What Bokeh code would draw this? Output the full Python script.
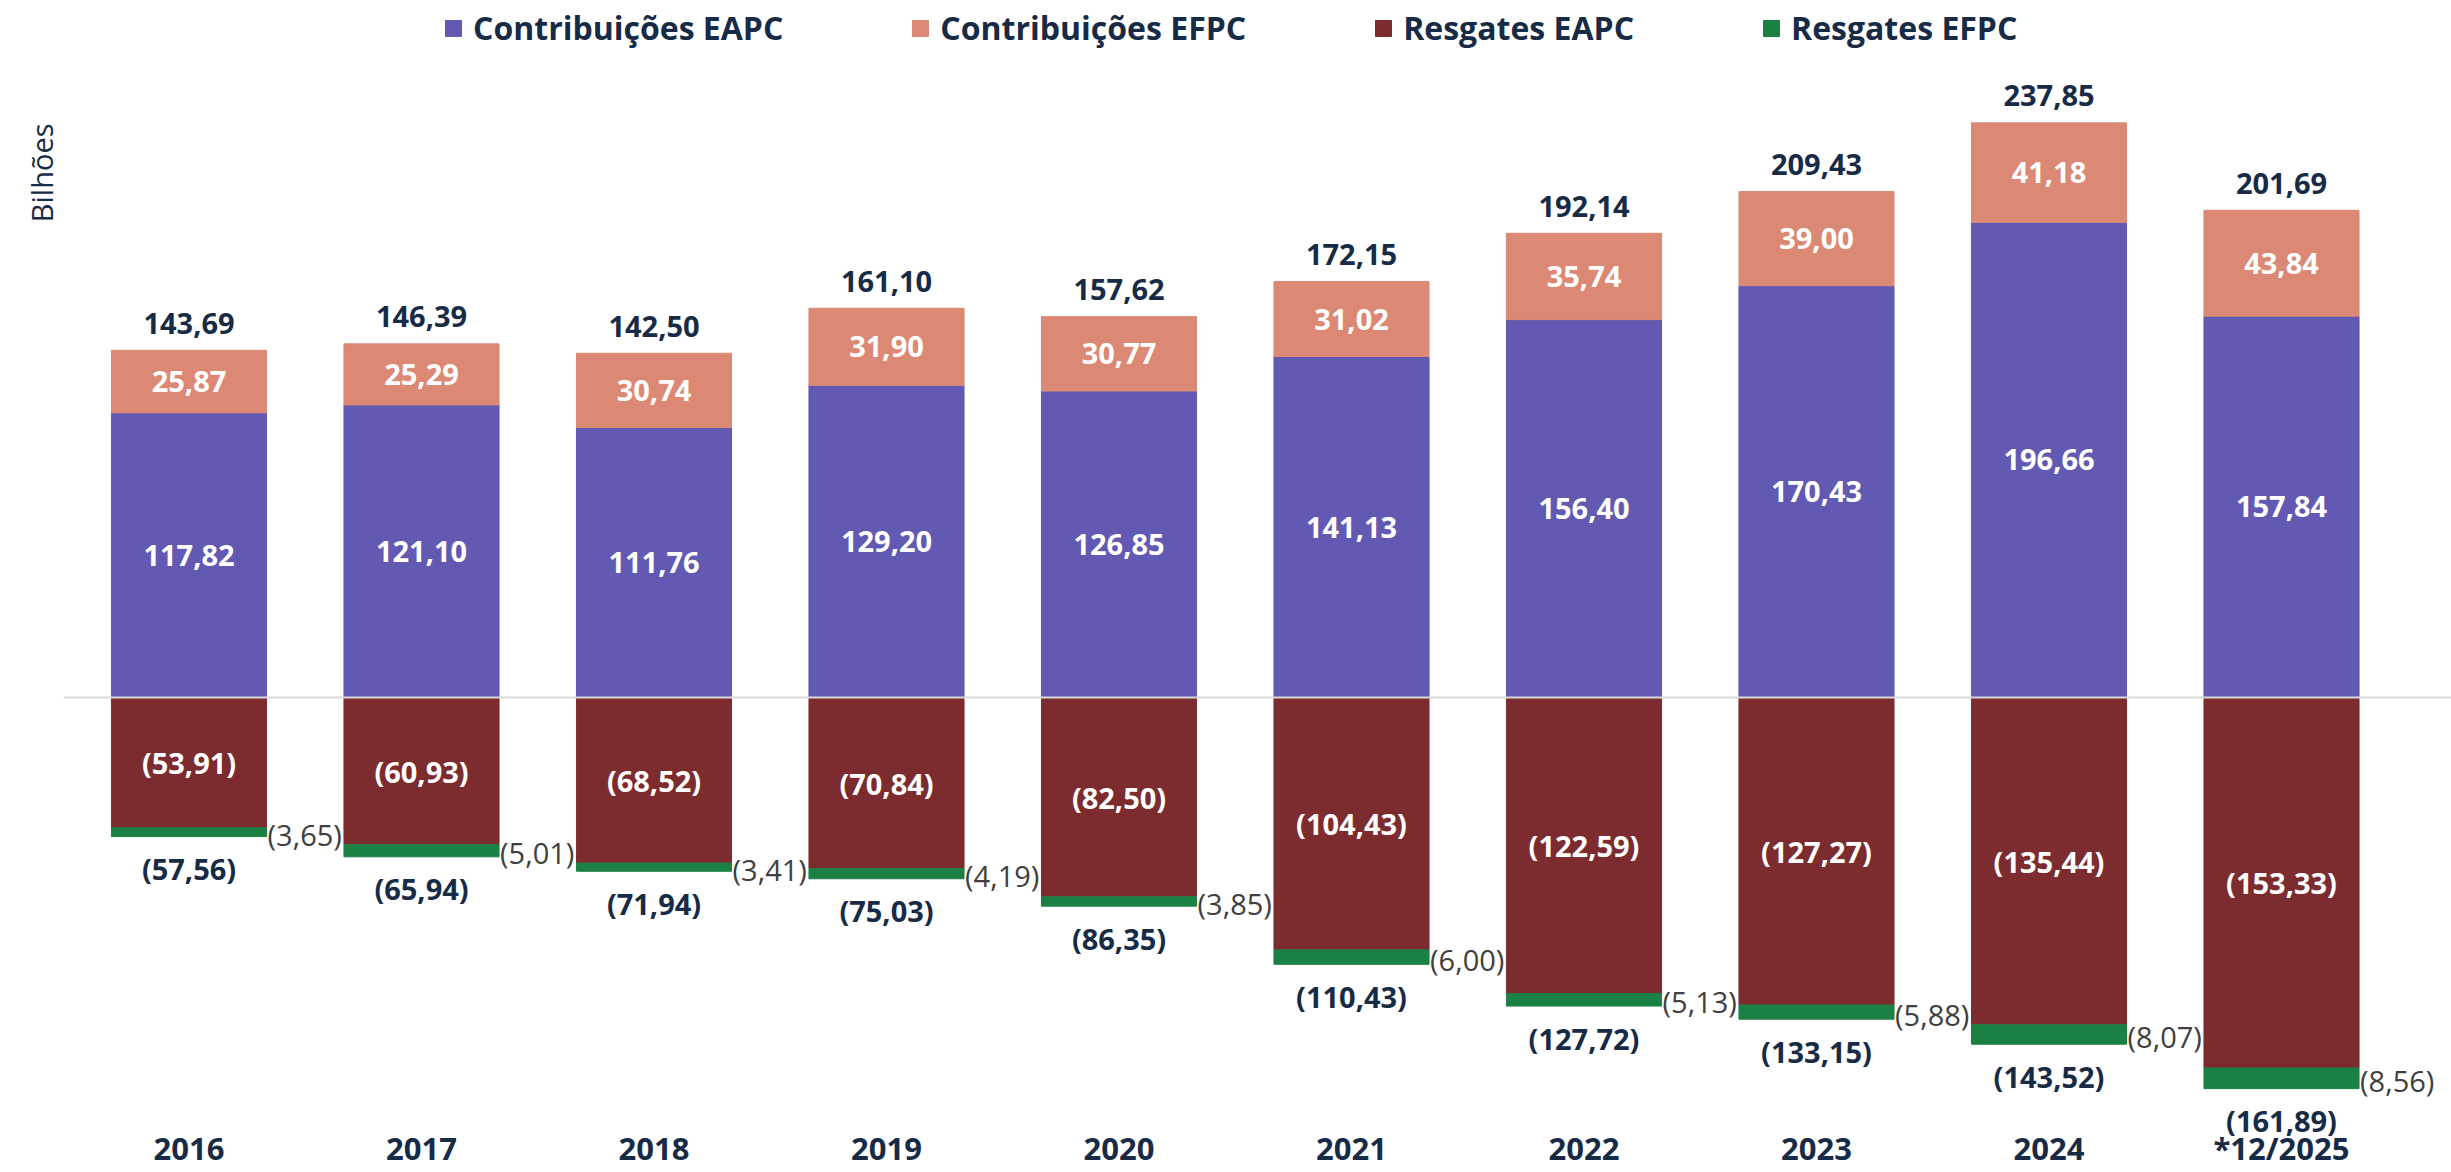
from bokeh.plotting import figure
from bokeh.models import (ColumnDataSource, Range1d, LinearAxis, FixedTicker,
                          Legend, LegendItem, Span, Title)
from bokeh.core.properties import value
from bokeh.embed import file_html
from bokeh.resources import INLINE

# ---------------- data ----------------
years = ["2016", "2017", "2018", "2019", "2020", "2021", "2022", "2023", "2024", "*12/2025"]
contrib_eapc = [117.82, 121.10, 111.76, 129.20, 126.85, 141.13, 156.40, 170.43, 196.66, 157.84]
contrib_efpc = [25.87, 25.29, 30.74, 31.90, 30.77, 31.02, 35.74, 39.00, 41.18, 43.84]
contrib_total = [143.69, 146.39, 142.50, 161.10, 157.62, 172.15, 192.14, 209.43, 237.85, 201.69]
resg_eapc = [53.91, 60.93, 68.52, 70.84, 82.50, 104.43, 122.59, 127.27, 135.44, 153.33]
resg_efpc = [3.65, 5.01, 3.41, 4.19, 3.85, 6.00, 5.13, 5.88, 8.07, 8.56]
resg_total = [57.56, 65.94, 71.94, 75.03, 86.35, 110.43, 127.72, 133.15, 143.52, 161.89]
series_names = ["Contribuições EAPC", "Contribuições EFPC", "Resgates EAPC", "Resgates EFPC"]
y_label = "Bilhões"

# ---------------- style ----------------
PURPLE = "#6259B2"
ORANGE = "#DB8974"
MAROON = "#7C2C2E"
GREEN = "#1B8044"
NAVY = "#172B46"
GRAY = "#404040"
FONT = "Open Sans"
BAR_W = 0.667

def fmt(v):
    return f"{v:.2f}".replace(".", ",")

def fmt_neg(v):
    return "(" + fmt(v) + ")"

n = len(years)
xs = list(range(n))

src = ColumnDataSource(dict(
    x=xs,
    ce=contrib_eapc,
    cf=contrib_efpc,
    re=[-v for v in resg_eapc],
    rf=[-v for v in resg_efpc],
))

p = figure(width=2451, height=1172,
           x_range=Range1d(-0.5398, 9.7312), y_range=Range1d(-185.84, 288.49),
           output_backend="svg", toolbar_location=None,
           x_axis_location=None, y_axis_location=None,
           min_border_left=63, min_border_right=0, min_border_top=0, min_border_bottom=26,
           outline_line_color=None, background_fill_color="white",
           border_fill_color="white")
p.grid.visible = False

pos = p.vbar_stack(["ce", "cf"], x="x", width=BAR_W, color=[PURPLE, ORANGE], source=src)
neg = p.vbar_stack(["re", "rf"], x="x", width=BAR_W, color=[MAROON, GREEN], source=src)

p.add_layout(Span(location=0, dimension="width", line_color="#D9D9D9", line_width=2))

# ---------------- labels ----------------
def add_text(xv, yv, texts, color, style="bold", align="center", baseline="middle",
             x_off=0, y_off=0, size="29px"):
    s = ColumnDataSource(dict(x=xv, y=yv, t=texts))
    p.text(x="x", y="y", text="t", source=s, text_font=value(FONT),
           text_font_style=style, text_font_size=value(size), text_color=color,
           text_align=align, text_baseline=baseline, x_offset=x_off, y_offset=y_off)

add_text(xs, [v / 2 for v in contrib_eapc], [fmt(v) for v in contrib_eapc], "white")
add_text(xs, [a + b / 2 for a, b in zip(contrib_eapc, contrib_efpc)],
         [fmt(v) for v in contrib_efpc], "white")
add_text(xs, contrib_total, [fmt(v) for v in contrib_total], NAVY,
         baseline="alphabetic", y_off=-27)
add_text(xs, [-v / 2 for v in resg_eapc], [fmt_neg(v) for v in resg_eapc], "white")
add_text([x + BAR_W / 2 for x in xs], [-(a + b / 2) for a, b in zip(resg_eapc, resg_efpc)],
         [fmt_neg(v) for v in resg_efpc], GRAY, style="normal", align="left",
         x_off=1, y_off=2)
add_text(xs, [-v for v in resg_total], [fmt_neg(v) for v in resg_total], NAVY, y_off=32)

# ---------------- x axis ----------------
xaxis = LinearAxis(ticker=FixedTicker(ticks=xs),
                   major_label_overrides={i: y for i, y in enumerate(years)})
xaxis.axis_line_color = None
xaxis.major_tick_line_color = None
xaxis.minor_tick_line_color = None
xaxis.major_label_text_font = FONT
xaxis.major_label_text_font_style = "bold"
xaxis.major_label_text_font_size = "31px"
xaxis.major_label_text_color = NAVY
xaxis.major_label_standoff = -26
p.add_layout(xaxis, "below")

# ---------------- y label (left side title) ----------------
p.add_layout(Title(text=y_label, align="right", offset=123, standoff=6,
                   text_font=FONT, text_font_style="normal", text_font_size="29px",
                   text_color=NAVY), "left")

# ---------------- legend ----------------
renderers = [pos[0], pos[1], neg[0], neg[1]]
legend = Legend(items=[LegendItem(label=nm, renderers=[r]) for nm, r in zip(series_names, renderers)],
                orientation="horizontal", location=(380, 1097),
                glyph_width=20, glyph_height=20, label_standoff=10, spacing=127,
                padding=0, margin=0, border_line_color=None, background_fill_alpha=0,
                label_text_font=FONT, label_text_font_style="bold",
                label_text_font_size="32px", label_text_color=NAVY)
p.add_layout(legend)

open("out.html", "w").write(file_html(p, INLINE, "chart"))
